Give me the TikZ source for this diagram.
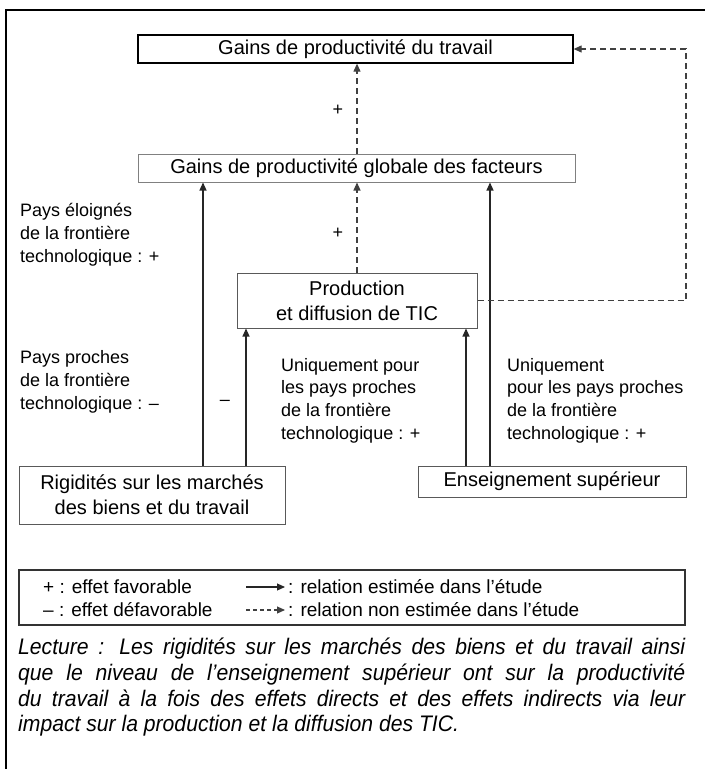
\documentclass[tikz,border=0pt]{standalone}
\usepackage{fontspec}
\setmainfont{Liberation Sans}
\newfontfamily\lecturefont{Liberation Sans}[FakeStretch=0.94]
\usetikzlibrary{arrows.meta}
\begin{document}
\begin{tikzpicture}[x=1pt,y=-1pt,
  box/.style={draw=#1, line width=1pt, inner sep=0pt, align=center,
    font=\fontsize{20}{25}\selectfont},
  box/.default={black!65},
  note/.style={anchor=base west, inner sep=0pt, align=left,
    font=\fontsize{18}{22.6}\selectfont},
  sign/.style={inner sep=0pt, font=\fontsize{18}{22}\selectfont},
  legtext/.style={anchor=base west, inner sep=0pt, font=\fontsize{19}{23}\selectfont},
  est/.style={line width=1.1pt, black!85, -{Triangle[length=8pt,width=7pt]}},
  nonest/.style={line width=1.1pt, black!75, dash pattern=on 6pt off 4pt,
    -{Triangle[length=8pt,width=7pt]}}]

\useasboundingbox (0,0) rectangle (705,769);

% outer frame: top and left rules only
\draw[line width=2.5pt] (6,769) -- (6,10) -- (705,10);

% x positions of the vertical connectors
\coordinate (cA) at (203,0);
\coordinate (cB) at (246,0);
\coordinate (cC) at (357,0);
\coordinate (cD) at (466,0);
\coordinate (cE) at (490,0);
\coordinate (cR) at (686,0);

% boxes
\node[box=black, line width=1.3pt, minimum width=435pt, minimum height=28pt] (travail) at (355.5,49)
  {Gains de productivité du travail};
\node[box=black!50, minimum width=437pt, minimum height=28pt] (pgf) at (356.5,168)
  {Gains de productivité globale des facteurs};
\node[box, minimum width=240pt, minimum height=55pt] (tic) at (357,300.5)
  {Production\\et diffusion de TIC};
\node[box, minimum width=266pt, minimum height=58pt] (rig) at (152,495)
  {Rigidités sur les marchés\\des biens et du travail};
\node[box, minimum width=268pt, minimum height=31pt] (ens) at (552,481.5)
  {Enseignement supérieur};

% estimated relations
\draw[est] (rig.north -| cA) -- (pgf.south -| cA);
\draw[est] (rig.north -| cB) -- (tic.south -| cB);
\draw[est] (ens.north -| cD) -- (tic.south -| cD);
\draw[est] (ens.north -| cE) -- (pgf.south -| cE);

% relations not estimated
\draw[nonest] (tic.north -| cC) -- (pgf.south -| cC);
\draw[nonest] (pgf.north -| cC) -- (travail.south -| cC);
\draw[nonest] (tic.east) -- (tic.east -| cR) -- (travail.east -| cR) -- (travail.east);

% signs of the effects
\node[sign] (s1) at (338,110) {+};
\node[sign] (s2) at (338,233) {+};
\node[sign] (s3) at (225,403) {–};

% annotations (anchored on the baseline of their last line)
\node[note] (n1) at (20,262) {Pays éloignés\\de la frontière\\technologique : +};
\node[note] (n2) at (20,409) {Pays proches\\de la frontière\\technologique : –};
\node[note] (n3) at (281,439) {Uniquement pour\\les pays proches\\de la frontière\\technologique : +};
\node[note] (n4) at (507,439) {Uniquement\\pour les pays proches\\de la frontière\\technologique : +};

% legend
\node[draw=black!80, line width=1.3pt, minimum width=666pt, minimum height=55pt, inner sep=0pt] (leg) at (352,597.5) {};
\node[legtext] (l1) at (43,593) {+ : effet favorable};
\node[legtext] (l2) at (43,616) {– : effet défavorable};
\coordinate (a1s) at (246,587);
\coordinate (a1e) at (285,587);
\coordinate (a2s) at (246,610);
\coordinate (a2e) at (285,610);
\draw[est] (a1s) -- (a1e);
\draw[nonest, dash pattern=on 4pt off 3pt] (a2s) -- (a2e);
\node[legtext] (l3) at (288,593) {: relation estimée dans l'étude};
\node[legtext] (l4) at (288,616) {: relation non estimée dans l'étude};

% reading note
\node[anchor=north west, inner sep=0pt] (lect) at (18,638)
  {\parbox{667pt}{\fontsize{22.5}{25.7}\lecturefont\itshape
  Lecture : Les rigidités sur les marchés des biens et du travail ainsi\linebreak
  que le niveau de l’enseignement supérieur ont sur la productivité\linebreak
  du travail à la fois des effets directs et des effets indirects via leur\linebreak
  impact sur la production et la diffusion des TIC.}};
\end{tikzpicture}
\end{document}
